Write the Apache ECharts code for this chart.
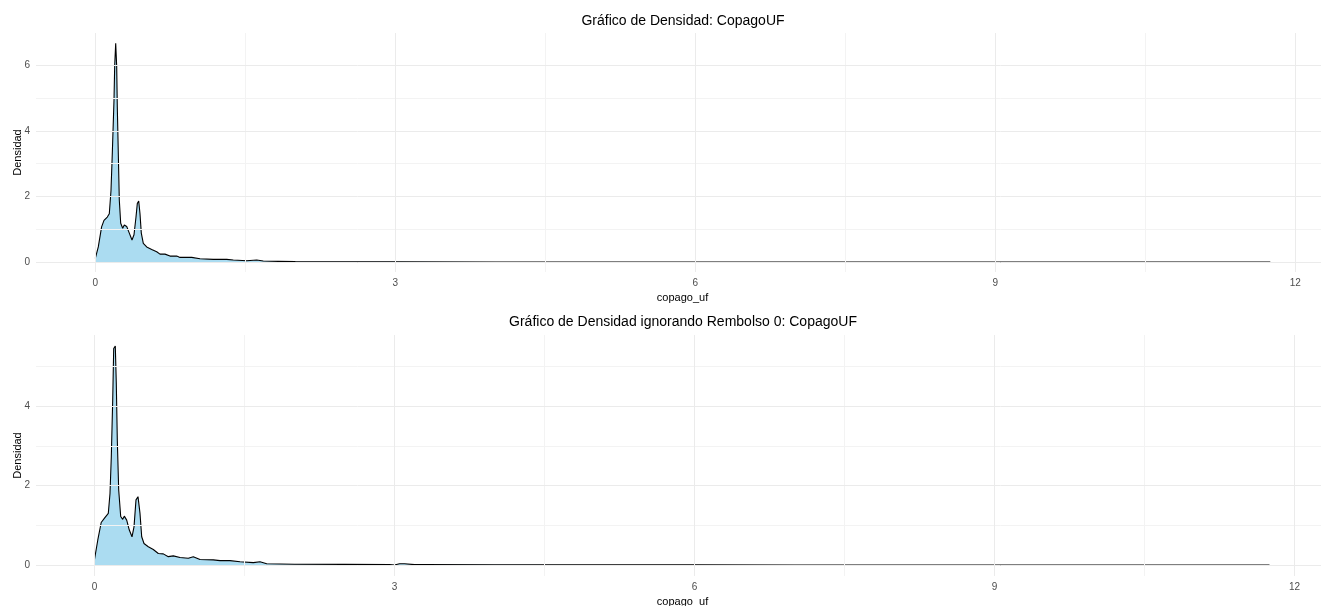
<!DOCTYPE html>
<html>
<head>
<meta charset="utf-8">
<script src="https://cdn.jsdelivr.net/npm/echarts@6/dist/echarts.min.js"></script>
<style>html,body{margin:0;padding:0;background:#fff}#c{width:1321px;height:606px}</style>
</head>
<body>
<div id="c"></div>
<script>
// ---- Data ----
const titleTop = "Gráfico de Densidad: CopagoUF";
const titleBottom = "Gráfico de Densidad ignorando Rembolso 0: CopagoUF";
const xName = "copago_uf";
const yName = "Densidad";

const xTicks = [0, 3, 6, 9, 12];
const xMinor = [1.5, 4.5, 7.5, 10.5];
const yTicksTop = [0, 2, 4, 6];
const yMinorTop = [1, 3, 5, 7];
const yTicksBottom = [0, 2, 4];
const yMinorBottom = [1, 3, 5];

const topX = [0.0,0.03,0.063,0.087,0.12,0.14,0.157,0.17,0.187,0.194,0.204,0.214,0.22,0.23,0.24,0.254,0.274,0.29,0.314,0.34,0.367,0.387,0.407,0.42,0.434,0.447,0.46,0.48,0.514,0.564,0.614,0.647,0.697,0.747,0.814,0.847,0.964,0.98,1.047,1.18,1.314,1.38,1.514,1.614,1.68,1.83,2.0,2.5,3.0,4.0,5.0,6.0,7.0,8.0,9.0,10.0,11.0,11.75];
const topY = [0.11,0.46,1.07,1.27,1.37,1.47,2.18,3.31,4.94,6.0,6.67,5.95,4.73,3.31,1.89,1.18,1.03,1.13,1.08,0.88,0.67,0.83,1.37,1.78,1.86,1.47,0.88,0.57,0.46,0.38,0.31,0.24,0.24,0.18,0.18,0.14,0.14,0.16,0.1,0.08,0.08,0.06,0.04,0.06,0.03,0.02,0.01,0.006,0.004,0.002,0.001,0.001,0.001,0.001,0.001,0.001,0.001,0.0];

const botX = [0.0,0.033,0.067,0.1,0.138,0.155,0.168,0.182,0.192,0.208,0.218,0.228,0.242,0.262,0.282,0.298,0.322,0.348,0.375,0.395,0.415,0.435,0.455,0.472,0.495,0.538,0.588,0.638,0.688,0.738,0.788,0.855,0.938,0.988,1.055,1.188,1.255,1.355,1.455,1.588,1.655,1.722,2.0,2.5,2.95,3.0,3.05,3.1,3.2,3.3,4.0,5.0,6.0,7.0,8.0,9.0,10.0,11.0,11.75];
const botY = [0.14,0.63,1.07,1.18,1.3,1.8,2.72,4.15,5.45,5.51,4.57,3.15,1.89,1.22,1.15,1.23,1.13,0.88,0.71,0.96,1.64,1.72,1.3,0.71,0.54,0.46,0.39,0.29,0.28,0.21,0.23,0.19,0.17,0.21,0.14,0.13,0.11,0.11,0.08,0.06,0.08,0.03,0.02,0.015,0.012,0.0,0.03,0.03,0.01,0.01,0.005,0.003,0.002,0.001,0.001,0.001,0.001,0.001,0.0];

function pairs(xs, ys) { return xs.map((x, i) => [x, ys[i]]); }

const MAJOR = '#ebebeb', MINOR = '#f3f3f3';
function gridSeries(idx, xMaj, xMin, yMaj, yMin) {
  const d = [];
  xMin.forEach(v => d.push({xAxis: v, lineStyle: {color: MINOR, width: 1, type: 'solid'}}));
  yMin.forEach(v => d.push({yAxis: v, lineStyle: {color: MINOR, width: 1, type: 'solid'}}));
  xMaj.forEach(v => d.push({xAxis: v, lineStyle: {color: MAJOR, width: 1, type: 'solid'}}));
  yMaj.forEach(v => d.push({yAxis: v, lineStyle: {color: MAJOR, width: 1, type: 'solid'}}));
  return {
    type: 'line', xAxisIndex: idx, yAxisIndex: idx, data: [], silent: true, z: 0,
    markLine: {silent: true, symbol: ['none', 'none'], label: {show: false}, animation: false,
      lineStyle: {type: 'solid'}, emphasis: {disabled: true}, data: d}
  };
}
function densitySeries(idx, xs, ys) {
  return {
    type: 'line', xAxisIndex: idx, yAxisIndex: idx, data: pairs(xs, ys), showSymbol: false,
    symbol: 'none', smooth: false, z: 3,
    lineStyle: {color: '#000', width: 1.1},
    areaStyle: {color: '#abdcf1', opacity: 1, origin: 'auto'}
  };
}
const lblX = {color: '#4d4d4d', fontSize: 10, fontFamily: 'Liberation Sans, Arial', margin: 6};
const lblY = {color: '#4d4d4d', fontSize: 10, fontFamily: 'Liberation Sans, Arial', margin: 6};
const nameStyle = {color: '#000', fontSize: 11, fontFamily: 'Liberation Sans, Arial'};

function xAxisDef(idx, min, max) {
  return {
    type: 'value', gridIndex: idx, min: min, max: max, name: xName, nameLocation: 'middle', nameGap: 20,
    nameMoveOverlap: false,
    nameTextStyle: nameStyle, axisLine: {show: false}, axisTick: {show: false},
    splitLine: {show: false}, axisLabel: Object.assign({customValues: xTicks}, lblX)
  };
}
function yAxisDef(idx, min, max, ticks) {
  return {
    type: 'value', gridIndex: idx, min: min, max: max, name: yName, nameLocation: 'middle', nameGap: 13,
    nameMoveOverlap: false,
    nameRotate: 90, nameTextStyle: nameStyle, axisLine: {show: false}, axisTick: {show: false},
    splitLine: {show: false}, axisLabel: Object.assign({customValues: ticks}, lblY)
  };
}

const chart = echarts.init(document.getElementById('c'), null, {renderer: 'canvas'});
chart.setOption({
  animation: false,
  backgroundColor: '#fff',
  title: [
    {text: titleTop, left: 678, top: 9, textAlign: 'center', textStyle: {fontSize: 14, fontWeight: 'normal', color: '#000', fontFamily: 'Liberation Sans, Arial'}},
    {text: titleBottom, left: 678, top: 310, textAlign: 'center', textStyle: {fontSize: 14, fontWeight: 'normal', color: '#000', fontFamily: 'Liberation Sans, Arial'}}
  ],
  grid: [
    {left: 36, top: 33, width: 1293, height: 239, outerBoundsMode: 'none', containLabel: false},
    {left: 36, top: 335, width: 1293, height: 241, outerBoundsMode: 'none', containLabel: false}
  ],
  xAxis: [xAxisDef(0, -0.593, 12.337), xAxisDef(1, -0.585, 12.345)],
  yAxis: [yAxisDef(0, -0.305, 6.98, yTicksTop), yAxisDef(1, -0.277, 5.79, yTicksBottom)],
  series: [
    gridSeries(0, xTicks, xMinor, yTicksTop, yMinorTop),
    gridSeries(1, xTicks, xMinor, yTicksBottom, yMinorBottom),
    densitySeries(0, topX, topY),
    densitySeries(1, botX, botY)
  ]
});
</script>
</body>
</html>
